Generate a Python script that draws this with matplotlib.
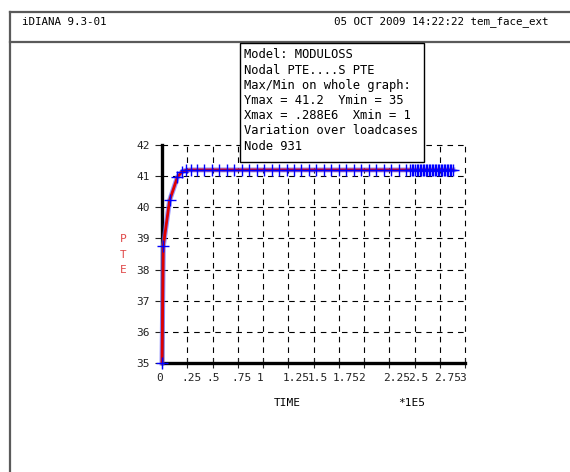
import matplotlib.pyplot as plt
import matplotlib.transforms as mtransforms
from matplotlib.patches import Rectangle
from matplotlib.lines import Line2D

# data (time in seconds, PTE)
time = [1, 1300, 7500, 15300, 19700, 23700, 28700,
        34500, 41900, 49300, 56700, 64100, 71500, 78900, 86300, 93700,
        101100, 108500, 115900, 123300, 130700, 138100, 145500, 152900,
        160300, 167700, 175100, 182500, 189900, 197300, 204700, 212100,
        219500, 226900, 234300, 241700,
        246000, 247500, 249000, 250500, 252000, 253500, 255000, 256500,
        258000, 259500, 261000, 262500, 264000, 265500, 267000, 268500,
        270000, 271500, 273000, 274500, 276000, 277500, 279000, 280500,
        282000, 283500, 285000, 286500, 288000]
pte = [35.0, 38.75, 40.22, 40.97, 41.14, 41.19, 41.2,
       41.2, 41.2, 41.2, 41.2, 41.2, 41.2, 41.2, 41.2, 41.2,
       41.2, 41.2, 41.2, 41.2, 41.2, 41.2, 41.2, 41.2,
       41.2, 41.2, 41.2, 41.2, 41.2, 41.2, 41.2, 41.2,
       41.2, 41.2, 41.2, 41.2,
       41.2, 41.2, 41.2, 41.2, 41.2, 41.2, 41.2, 41.2,
       41.2, 41.2, 41.2, 41.2, 41.2, 41.2, 41.2, 41.2,
       41.2, 41.2, 41.2, 41.2, 41.2, 41.2, 41.2, 41.2,
       41.2, 41.2, 41.2, 41.2, 41.2]
x_ticks = [0, 0.25, 0.5, 0.75, 1, 1.25, 1.5, 1.75, 2, 2.25, 2.5, 2.75, 3]
x_labels = ["0", ".25", ".5", ".75", "1", "1.25", "1.5", "1.75", "2",
            "2.25", "2.5", "2.75", "3"]
y_ticks = [35, 36, 37, 38, 39, 40, 41, 42]
info = ["Model: MODULOSS", "Nodal PTE....S PTE", "Max/Min on whole graph:",
        "Ymax = 41.2  Ymin = 35", "Xmax = .288E6  Xmin = 1",
        "Variation over loadcases", "Node 931"]

W, H = 570, 472
mono = "DejaVu Sans Mono"


def fx(px):
    return px / W


def fy(py):
    return 1 - py / H


fig = plt.figure(figsize=(W / 100, H / 100), dpi=100)
fig.patch.set_facecolor("white")

# header frame (open to the right edge) and body border
for yy in (12, 42):
    fig.lines.append(Line2D([fx(10), fx(575)], [fy(yy), fy(yy)],
                            transform=fig.transFigure, color="#5a5a5a", linewidth=1.6))
fig.lines.append(Line2D([fx(10), fx(10)], [fy(12), fy(472)],
                        transform=fig.transFigure, color="#5a5a5a", linewidth=1.6))
fig.text(fx(22), fy(22), "iDIANA 9.3-01", family=mono, fontsize=7.8, va="center")
fig.text(fx(549), fy(22), "05 OCT 2009 14:22:22 tem_face_ext", family=mono,
         fontsize=7.8, va="center", ha="right")

ax = fig.add_axes([fx(162), fy(363), fx(465) - fx(162), fy(145) - fy(363)])
ax.set_xlim(0, 3)
ax.set_ylim(35, 42)

xs = [t / 1e5 for t in time]
ax.plot(xs, pte, color="#6a6aff", linewidth=3.6, alpha=0.7, zorder=3, clip_on=False)
ax.plot(xs, pte, color="#e00000", linewidth=2, zorder=4, clip_on=False)
ax.plot(xs, pte, linestyle="none", marker="+", markersize=8, markeredgewidth=1.0,
        color="#0000ff", zorder=5, clip_on=False)

# dashed grid
ax.hlines(y_ticks[1:], 0, 3, colors="black", linewidth=0.8,
          linestyles=(0, (5, 4.5)), clip_on=False, zorder=1)
ax.vlines(x_ticks[1:], 35, 42, colors="black", linewidth=0.8,
          linestyles=(0, (5, 4.5)), clip_on=False, zorder=1)

for s in ["top", "right"]:
    ax.spines[s].set_visible(False)
ax.spines["left"].set_linewidth(2.4)
ax.spines["bottom"].set_linewidth(2.4)

ax.set_xticks(x_ticks)
ax.set_xticklabels(x_labels, family=mono, fontsize=8, ha="left")
ax.set_yticks(y_ticks)
ax.set_yticklabels([str(v) for v in y_ticks], family=mono, fontsize=8)
ax.tick_params(axis="x", direction="inout", length=7, width=0.8, pad=4, colors="#222222")
ax.tick_params(axis="y", direction="out", length=5, width=0.8, pad=4, colors="#222222")
offset = mtransforms.ScaledTranslation(-6 / 100, 0, fig.dpi_scale_trans)
for lab in ax.get_xticklabels():
    lab.set_transform(lab.get_transform() + offset)

fig.text(fx(274), fy(403), "TIME", family=mono, fontsize=8, va="center")
fig.text(fx(398), fy(403), "*1E5", family=mono, fontsize=8, va="center")
for i, ch in enumerate("PTE"):
    fig.text(fx(123), fy(239 + 15.5 * i), ch, family=mono, fontsize=8,
             color="#e04848", va="center", ha="center")

# info box
fig.patches.append(Rectangle((fx(240), fy(162)), fx(424) - fx(240), fy(43) - fy(162),
                             transform=fig.transFigure, facecolor="white",
                             edgecolor="black", linewidth=1.0, zorder=6))
for i, line in enumerate(info):
    fig.text(fx(244), fy(55 + 15.2 * i), line, family=mono, fontsize=8.7,
             va="center", zorder=7)

fig.savefig("out.png", dpi=100)
